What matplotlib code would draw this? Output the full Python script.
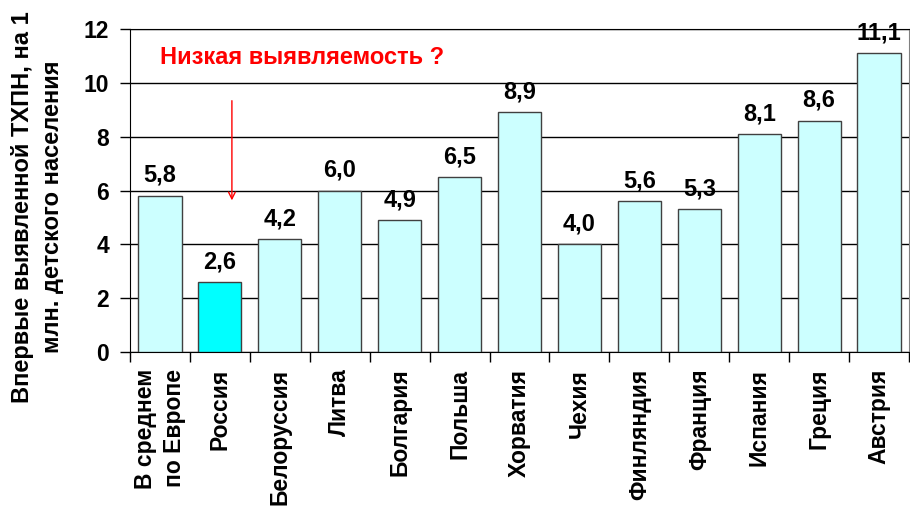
import matplotlib
matplotlib.use("Agg")
import matplotlib.pyplot as plt

categories = ["В среднем\nпо Европе", "Россия", "Белоруссия", "Литва", "Болгария",
              "Польша", "Хорватия", "Чехия", "Финляндия", "Франция", "Испания",
              "Греция", "Австрия"]
values = [5.8, 2.6, 4.2, 6.0, 4.9, 6.5, 8.9, 4.0, 5.6, 5.3, 8.1, 8.6, 11.1]
value_labels = ["5,8", "2,6", "4,2", "6,0", "4,9", "6,5", "8,9", "4,0", "5,6", "5,3", "8,1", "8,6", "11,1"]
yticks = [0, 2, 4, 6, 8, 10, 12]
ylabel = "Впервые выявленной ТХПН, на 1\nмлн. детского населения"
note = "Низкая выявляемость ?"

plt.rcParams['font.family'] = ['Liberation Sans', 'DejaVu Sans']
plt.rcParams['font.weight'] = 'bold'

fig = plt.figure(figsize=(9.1, 5.11), dpi=100)
ax = fig.add_axes([0.1429, 0.3112, 0.856, 0.632])

x = list(range(len(categories)))
colors = ["#CCFFFF"] * len(categories)
colors[1] = "#00FFFF"
ax.bar(x, values, width=0.72, color=colors, edgecolor="#404040", linewidth=1, zorder=3)

for xi, v, lab in zip(x, values, value_labels):
    ax.annotate(lab, (xi, v), xytext=(0, 10), textcoords="offset points",
                ha="center", va="baseline", fontsize=17, fontweight="bold", zorder=4,
                annotation_clip=False)

ax.set_xlim(-0.5, len(categories) - 0.5)
ax.set_ylim(0, 12)
ax.set_yticks(yticks)
ax.set_yticklabels([str(t) for t in yticks], fontsize=16.5, fontweight="bold")
ax.yaxis.grid(True, color="black", linewidth=1, zorder=0)
ax.set_axisbelow(True)

ax.set_xticks([i + 0.5 for i in range(-1, len(categories))], minor=False)
ax.set_xticklabels([])
ax.tick_params(axis="x", direction="out", length=7, width=1)
ax.tick_params(axis="y", direction="out", length=7, width=1, pad=8)
ax.set_xticks(x, minor=True)
ax.set_xticklabels(categories, minor=True, rotation=90, fontsize=16.5, fontweight="bold",
                   va="top", ha="center", linespacing=1.35, multialignment="right")
ax.tick_params(axis="x", which="minor", length=0, pad=12)

for s in ["left", "bottom", "top"]:
    ax.spines[s].set_color("black")
ax.spines["right"].set_color("#808080")

fig.text(37.5 / 910, 1 - 207 / 511, ylabel, rotation=90, ha="center", va="center",
         fontsize=17, fontweight="bold", linespacing=1.35, multialignment="center")

ax.text(0.0, 10.96, note, color="red", fontsize=17, fontweight="bold", ha="left", va="center")
ax.annotate("", xy=(1.2, 5.53), xytext=(1.2, 9.44),
            arrowprops=dict(arrowstyle="->", color="red", lw=1, mutation_scale=12))

fig.savefig("out.png", dpi=100)
